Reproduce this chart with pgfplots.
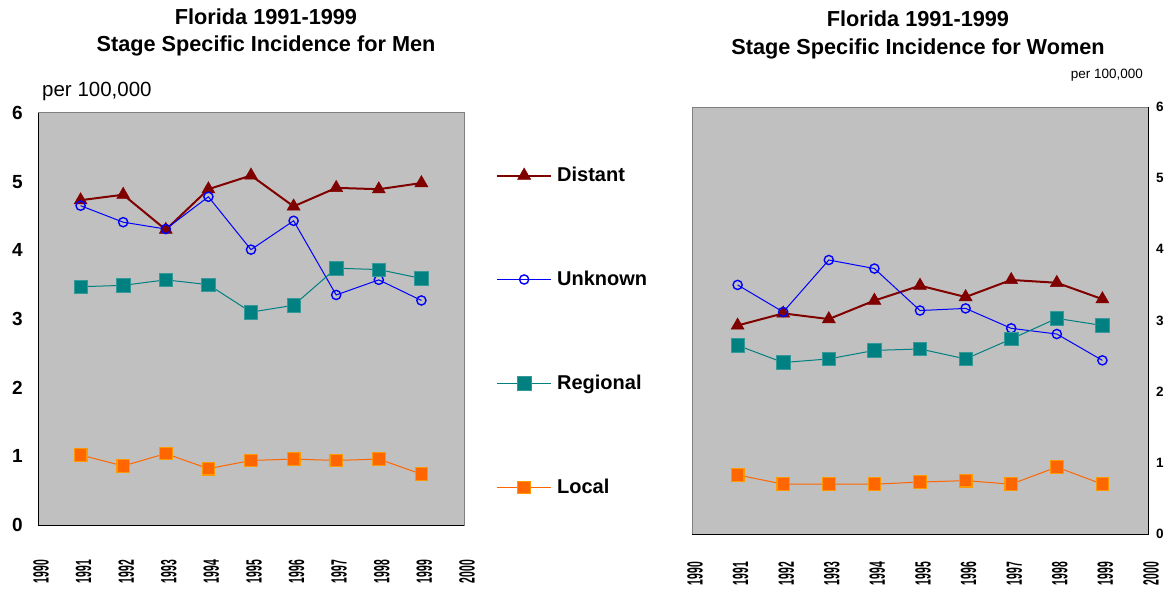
\documentclass[border=0pt]{standalone}
\usepackage{pgfplots}
\pgfplotsset{compat=1.18}
\usepackage{graphicx}
\usepackage{fontspec}
\setmainfont{Liberation Sans}

\definecolor{dred}{HTML}{800000}
\definecolor{ublue}{HTML}{0000FF}
\definecolor{rteal}{HTML}{008080}
\definecolor{lorange}{HTML}{FF6600}
\definecolor{lorangeb}{HTML}{FF9900}
\definecolor{bggray}{HTML}{C0C0C0}
\definecolor{frgray}{HTML}{808080}

\pgfplotsset{
  distant/.style={dred, line width=2pt, mark=triangle*, mark size=7.5pt, mark options={solid, fill=dred, draw=dred, line width=0.5pt}},
  unknown/.style={ublue, line width=1pt, mark=o, mark size=4.6pt, mark options={solid, draw=ublue, line width=1.4pt, fill=none}},
  regional/.style={rteal, line width=1pt, mark=square*, mark size=6.7pt, mark options={solid, fill=rteal, draw=rteal!80!white, line width=0.6pt}},
  local/.style={lorange, line width=1pt, mark=square*, mark size=6.3pt, mark options={solid, fill=lorange, draw=lorangeb, line width=1.2pt}},
  common/.style={scale only axis, xmin=1990, xmax=2000, ymin=0, ymax=6,
    xtick={1990,...,2000}, ytick={0,...,6}, major tick length=0pt,
    axis background/.style={fill=bggray}, axis line style={frgray, line width=1pt},
    clip=false,
    /pgf/number format/assume math mode=true,
    xticklabel={\rotatebox{90}{\scalebox{0.47}[1]{\pgfmathprintnumber[1000 sep={},fixed,precision=0]{\tick}}}},
    xticklabel style={anchor=north, inner sep=0pt, font=\fontsize{22}{22}\selectfont\bfseries},
    legend image code/.code={\draw[mark repeat=2,mark phase=2] plot coordinates {(0pt,0pt)(27pt,0pt)(54pt,0pt)};},
  }
}

\pgfplotstableread{
year distant unknown regional local
1991 4.73 4.65 3.47 1.02
1992 4.81 4.41 3.49 0.86
1993 4.30 4.31 3.57 1.04
1994 4.89 4.78 3.50 0.82
1995 5.09 4.01 3.10 0.94
1996 4.64 4.43 3.20 0.96
1997 4.91 3.35 3.74 0.94
1998 4.89 3.57 3.72 0.96
1999 4.98 3.27 3.59 0.74
}\men

\pgfplotstableread{
year distant unknown regional local
1991 2.93 3.50 2.65 0.83
1992 3.10 3.12 2.41 0.70
1993 3.02 3.85 2.46 0.70
1994 3.28 3.73 2.58 0.70
1995 3.49 3.14 2.60 0.73
1996 3.33 3.17 2.46 0.75
1997 3.57 2.89 2.74 0.70
1998 3.53 2.81 3.03 0.94
1999 3.30 2.44 2.93 0.70
}\women

\begin{document}
\begin{tikzpicture}
\path[use as bounding box] (0,0) rectangle (1169pt,592pt);

\begin{axis}[common, at={(38pt,67pt)}, anchor=south west, width=426pt, height=412pt,
  yticklabel style={anchor=east, inner sep=0pt, xshift=-15pt, font=\fontsize{19}{19}\selectfont\bfseries},
  xticklabel style={yshift=-35pt, xshift=3pt},
  legend style={at={(1.075,0.4697)}, anchor=west, draw=none, fill=none, inner sep=0pt,
    row sep=88pt, column sep=5pt, nodes={inner sep=0pt},
    font=\fontsize{20}{20}\selectfont\bfseries},
  legend cell align=left]
\draw[black, line width=1pt] (rel axis cs:0,1) -- (rel axis cs:0,0) -- (rel axis cs:1,0);
\addplot[distant] table[x=year,y=distant] {\men};
\addlegendentry{Distant}
\addplot[unknown] table[x=year,y=unknown] {\men};
\addlegendentry{Unknown}
\addplot[regional] table[x=year,y=regional] {\men};
\addlegendentry{Regional}
\addplot[local] table[x=year,y=local] {\men};
\addlegendentry{Local}
\end{axis}

\begin{axis}[common, at={(692pt,58pt)}, anchor=south west, width=456pt, height=427pt,
  yticklabel pos=right,
  yticklabel style={anchor=west, inner sep=0pt, xshift=8pt, font=\fontsize{13.5}{13.5}\selectfont\bfseries},
  xticklabel style={yshift=-28pt, xshift=3pt}]
\draw[black, line width=1pt] (rel axis cs:0,0) -- (rel axis cs:1,0) -- (rel axis cs:1,1);
\addplot[distant] table[x=year,y=distant] {\women};
\addplot[unknown] table[x=year,y=unknown] {\women};
\addplot[regional] table[x=year,y=regional] {\women};
\addplot[local] table[x=year,y=local] {\women};
\end{axis}

\node[anchor=base, font=\fontsize{21.7}{21.7}\selectfont\bfseries] at (266pt,567pt) {Florida 1991-1999};
\node[anchor=base, font=\fontsize{21.7}{21.7}\selectfont\bfseries] at (266pt,540pt) {Stage Specific Incidence for Men};
\node[anchor=base, font=\fontsize{21.7}{21.7}\selectfont\bfseries] at (918pt,565pt) {Florida 1991-1999};
\node[anchor=base, font=\fontsize{21.7}{21.7}\selectfont\bfseries] at (918pt,537pt) {Stage Specific Incidence for Women};
\node[anchor=base west, inner sep=0pt, font=\fontsize{20.5}{20.5}\selectfont] at (42pt,495pt) {per 100,000};
\node[anchor=base east, inner sep=0pt, font=\fontsize{13.5}{13.5}\selectfont] at (1143pt,513pt) {per 100,000};
\end{tikzpicture}
\end{document}
